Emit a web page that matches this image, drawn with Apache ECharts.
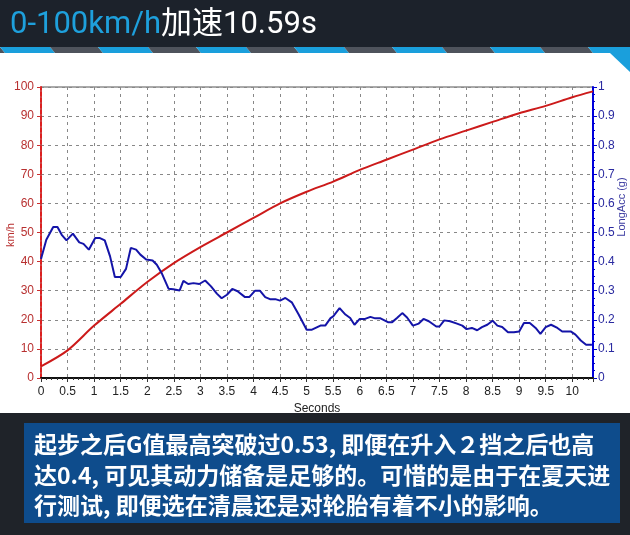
<!DOCTYPE html>
<html><head><meta charset="utf-8">
<script src="https://cdn.jsdelivr.net/npm/echarts@6/dist/echarts.min.js"></script>
<style>html,body{margin:0;padding:0;background:#fff}#c{width:630px;height:535px}</style>
</head><body><div id="c"></div>
<script>
var titleMain = '0-100km/h';
var titleRest = '加速10.59s';
var noteLines = [
  '起步之后G值最高突破过0.53, 即便在升入２挡之后也高',
  '达0.4, 可见其动力储备是足够的。可惜的是由于在夏天进',
  '行测试, 即便选在清晨还是对轮胎有着不小的影响。'
];
var xName = 'Seconds', leftName = 'km/h', rightName = 'LongAcc (g)';

var speedTime = [0, 0.5, 1, 1.5, 2, 2.5, 3, 3.5, 4, 4.5, 5, 5.5, 6, 6.5, 7, 7.5, 8, 8.5, 9, 9.5, 10, 10.39];
var speedKmh  = [4, 9.5, 18, 25.5, 33, 39.5, 45, 50, 55, 60, 64, 67.5, 71.5, 75, 78.5, 82, 85, 88, 91, 93.5, 96.5, 98.5];

var accTime = [0, 0.1, 0.23, 0.31, 0.39, 0.48, 0.6, 0.72, 0.8, 0.9, 1.02, 1.11, 1.2, 1.3, 1.39, 1.5, 1.6, 1.69, 1.79, 1.87, 1.98, 2.1, 2.18, 2.27, 2.4, 2.49, 2.61, 2.68, 2.77, 2.87, 2.98, 3.09, 3.2, 3.31, 3.4, 3.5, 3.6, 3.7, 3.84, 3.92, 4.03, 4.12, 4.22, 4.31, 4.41, 4.5, 4.6, 4.72, 4.85, 5.0, 5.1, 5.26, 5.35, 5.45, 5.5, 5.62, 5.73, 5.82, 5.9, 6.0, 6.1, 6.2, 6.29, 6.39, 6.53, 6.61, 6.7, 6.8, 6.89, 7.0, 7.11, 7.2, 7.3, 7.44, 7.5, 7.59, 7.7, 7.83, 7.93, 8.01, 8.11, 8.21, 8.3, 8.4, 8.5, 8.59, 8.68, 8.79, 8.9, 9.0, 9.09, 9.2, 9.31, 9.4, 9.5, 9.6, 9.72, 9.81, 9.97, 10.06, 10.16, 10.26, 10.37];
var accG = [0.409, 0.475, 0.519, 0.519, 0.492, 0.473, 0.496, 0.466, 0.461, 0.441, 0.481, 0.481, 0.473, 0.418, 0.347, 0.347, 0.375, 0.447, 0.441, 0.424, 0.407, 0.404, 0.389, 0.361, 0.307, 0.305, 0.301, 0.334, 0.323, 0.326, 0.323, 0.335, 0.315, 0.29, 0.274, 0.286, 0.306, 0.298, 0.278, 0.278, 0.3, 0.3, 0.278, 0.271, 0.271, 0.266, 0.275, 0.26, 0.218, 0.166, 0.166, 0.18, 0.18, 0.206, 0.212, 0.24, 0.218, 0.206, 0.183, 0.203, 0.203, 0.21, 0.205, 0.205, 0.192, 0.192, 0.206, 0.223, 0.208, 0.18, 0.187, 0.203, 0.195, 0.177, 0.177, 0.198, 0.195, 0.187, 0.18, 0.168, 0.172, 0.164, 0.175, 0.183, 0.197, 0.18, 0.175, 0.157, 0.157, 0.16, 0.189, 0.189, 0.172, 0.152, 0.175, 0.183, 0.172, 0.16, 0.16, 0.149, 0.129, 0.114, 0.114];

function pairs(xs, ys){ return xs.map(function(x,i){ return [x, ys[i]]; }); }

var chart = echarts.init(document.getElementById('c'), null, {renderer:'canvas'});

var graphics = [
  {type:'rect', shape:{x:0,y:0,width:630,height:47}, style:{fill:'#1c222b'}, z:-10},
  {type:'rect', shape:{x:0,y:413,width:630,height:122}, style:{fill:'#1f2329'}, z:-10},
  {type:'rect', shape:{x:24,y:423,width:596,height:100}, style:{fill:'#0e4c8c'}, z:-9},
  {type:'polygon', shape:{points:[[610,53],[630,53],[630,72]]}, style:{fill:'#1a9fdc'}, z:-9},
  {type:'text', left:10, top:10, style:{
    rich:{a:{fill:'#1ea0dc', fontSize:31, fontFamily:'Roboto, "Noto Sans CJK SC"'}, b:{fill:'#ffffff', fontSize:31, fontFamily:'Roboto, "Noto Sans CJK SC"'}},
    text:'{a|'+titleMain+'}{b|'+titleRest+'}'}, z:5},
  {type:'text', x:11, y:235, rotation:Math.PI/2, style:{text:leftName, fill:'#b83030', fontSize:11, fontFamily:'"Liberation Sans", Arial', align:'center', verticalAlign:'middle'}, z:5},
  {type:'text', x:622, y:207, rotation:Math.PI/2, style:{text:rightName, fill:'#3a3aa0', fontSize:11, fontFamily:'"Liberation Sans", Arial', align:'center', verticalAlign:'middle'}, z:5}
];
for (var k=-1;k<8;k++){
  var x0 = k*98;
  graphics.push({type:'polygon', shape:{points:[[x0,47],[x0+50,47],[x0+55,53],[x0+5,53]]}, style:{fill:'#1a9fdc'}, z:-8});
  graphics.push({type:'polygon', shape:{points:[[x0+50,47],[x0+98,47],[x0+103,53],[x0+55,53]]}, style:{fill:'#4e535c'}, z:-8});
}
noteLines.forEach(function(t,i){
  graphics.push({type:'text', left:34, top:433+i*30.5, style:{text:t, fill:'#ffffff', fontSize:23, fontWeight:'bold', fontFamily:'"Noto Sans CJK SC"'}, z:5});
});

chart.setOption({
  animation:false,
  backgroundColor:'#ffffff',
  graphic: graphics,
  grid:{left:41, right:37, top:87, bottom:157, containLabel:false, outerBoundsMode:'none', show:true, borderColor:'#555555', borderWidth:1, backgroundColor:'#ffffff'},
  xAxis:{
    type:'value', min:0, max:10.39, interval:0.5,
    name:xName, nameLocation:'middle', nameGap:23,
    nameTextStyle:{color:'#222', fontSize:12, fontFamily:'"Liberation Sans", Arial'},
    axisLine:{lineStyle:{color:'#111', width:2}},
    axisTick:{show:true, length:4, lineStyle:{color:'#333'}},
    minorTick:{show:true, splitNumber:5, length:2, lineStyle:{color:'#333'}},
    axisLabel:{color:'#222', fontSize:12, fontFamily:'"Liberation Sans", Arial', showMaxLabel:false, margin:8},
    splitLine:{show:true, lineStyle:{color:'#888', type:[3,4], width:1}}
  },
  yAxis:[{
    type:'value', min:0, max:100, interval:10, position:'left',
    axisLine:{show:true, lineStyle:{color:'#dd2020', width:2, type:[4,2]}},
    axisTick:{show:true, length:4, lineStyle:{color:'#cc3030'}},
    axisLabel:{color:'#b83030', fontSize:12, fontFamily:'"Liberation Sans", Arial', margin:7},
    splitLine:{show:true, lineStyle:{color:'#888', type:[3,4], width:1}}
  },{
    type:'value', min:0, max:1, interval:0.1, position:'right',
    axisLine:{show:true, lineStyle:{color:'#0000dd', width:2}},
    axisTick:{show:true, length:4, lineStyle:{color:'#0000cc'}},
    minorTick:{show:true, splitNumber:4, length:2, lineStyle:{color:'#0000cc'}},
    axisLabel:{color:'#2a2aa0', fontSize:12, fontFamily:'"Liberation Sans", Arial', margin:5},
    splitLine:{show:false}
  }],
  series:[{
    type:'line', yAxisIndex:0, data:pairs(speedTime, speedKmh), smooth:0.3, showSymbol:false,
    lineStyle:{color:'#cc1a1a', width:2}, z:3
  },{
    type:'line', yAxisIndex:1, data:pairs(accTime, accG), showSymbol:false,
    lineStyle:{color:'#1414a8', width:2}, z:4
  }]
});
</script></body></html>
